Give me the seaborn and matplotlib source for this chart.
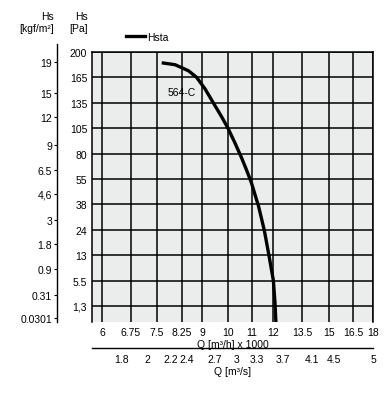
import numpy as np
import pandas as pd
import seaborn as sns
import matplotlib
matplotlib.use('Agg')
import matplotlib.pyplot as plt

plt.rcParams['font.family'] = ['Liberation Sans Narrow', 'Liberation Sans', 'DejaVu Sans']
plt.rcParams['font.size'] = 7.5

# flow in m3/h x 1000
q_ticks = [6, 6.75, 7.5, 8.25, 9, 10, 11, 12, 13.5, 15, 16.5, 18]
q_labels = ['6', '6.75', '7.5', '8.25', '9', '10', '11', '12', '13.5', '15', '16.5', '18']
# flow in m3/s (second scale under the chart)
qs_ticks = [1.8, 2, 2.2, 2.4, 2.7, 3, 3.3, 3.7, 4.1, 4.5, 5]
qs_labels = ['1.8', '2', '2.2', '2.4', '2.7', '3', '3.3', '3.7', '4.1', '4.5', '5']
# static pressure in Pa
pa_ticks = [1.3, 5.5, 13, 24, 38, 55, 80, 105, 135, 165, 200]
pa_labels = ['1,3', '5.5', '13', '24', '38', '55', '80', '105', '135', '165', '200']
# same pressure in kgf/m2
kgf_ticks = [19, 15, 12, 9, 6.5, 4.6, 3, 1.8, 0.9, 0.31, 0.0301]
kgf_labels = ['19', '15', '12', '9', '6.5', '4,6', '3', '1.8', '0.9', '0.31', '0.0301']

# fan curve 564-C
q_curve = [7.69, 8.04, 8.49, 8.80, 9.12, 9.50, 9.76, 10.0, 10.29, 10.56, 10.78, 10.98,
           11.18, 11.31, 11.59, 11.81, 12.02, 12.10, 12.15]
pa_curve = [184.8, 182.5, 174.2, 165.0, 151.3, 131.6, 118.2, 105.0, 90.4, 76.2, 63.4, 52.3,
            42.8, 37.1, 23.6, 12.85, 5.5, 1.91, 0.0]

G = 9.80665

# the sheet uses hand-made, uneven scales: tick value -> position (px)
q_pos = [102, 131, 157, 182, 202, 228, 252, 273, 302, 329, 353, 373]
qs_pos = [122, 147, 171, 187, 215, 237, 257, 283, 312, 334, 373]
pa_pos = [-0.63] + list(range(len(pa_ticks)))  # equal rows, 0 Pa at the bottom edge


def make_scale(vals, pos):
    vals = np.asarray(vals, float)
    pos = np.asarray(pos, float)

    def interp(v, a, b):
        v = np.asarray(v, float)
        out = np.interp(v, a, b)
        out = np.where(v < a[0], b[0] + (v - a[0]) * (b[1] - b[0]) / (a[1] - a[0]), out)
        out = np.where(v > a[-1], b[-1] + (v - a[-1]) * (b[-1] - b[-2]) / (a[-1] - a[-2]), out)
        return out

    return (lambda v: interp(v, vals, pos)), (lambda p: interp(p, pos, vals))


q_fwd, q_inv = make_scale(q_ticks, q_pos)
qs_fwd, qs_inv = make_scale(qs_ticks, qs_pos)
pa_fwd, pa_inv = make_scale([0] + pa_ticks, pa_pos)

W, H = 389, 402
fig = plt.figure(figsize=(W / 100, H / 100), dpi=100)
L, R, T, B = 92, 373, 53, 323
ax = fig.add_axes([L / W, 1 - B / H, (R - L) / W, (B - T) / H])
ax.set_facecolor('#ebecec')

df = pd.DataFrame({'Q': q_curve, 'Hs': pa_curve})
sns.lineplot(data=df, x='Q', y='Hs', sort=False, errorbar=None, color='black',
             lw=2.4, label='Hsta', ax=ax, zorder=5)

ax.set_xscale('function', functions=(q_fwd, q_inv))
ax.set_yscale('function', functions=(pa_fwd, pa_inv))
ax.set_xlim(float(q_inv(L)), 18)
ax.set_ylim(0, 200)
ax.set_xticks(q_ticks, q_labels)
ax.set_yticks(pa_ticks, pa_labels)
ax.minorticks_off()
ax.tick_params(length=0, pad=3.5, labelsize=7.5)
ax.grid(True, color='black', lw=1.1)
ax.set_axisbelow(True)
for s in ['top', 'right', 'left']:
    ax.spines[s].set_linewidth(1.1)
ax.spines['bottom'].set_visible(False)
ax.set_xlabel('Q [m³/h] x 1000', fontsize=7.5, labelpad=1.5)
ax.set_ylabel('')

ax.text(7.83, 148, '564-C', ha='left', va='center', fontsize=7.5)

ax.legend(loc='center left', bbox_to_anchor=((126 - L) / (R - L), 1 + 15 / (B - T)),
          frameon=False, borderpad=0, borderaxespad=0, handlelength=1.8,
          handletextpad=0.2, fontsize=7.5)

# kgf/m2 axis on the far left
ax2 = ax.twinx()
ax2.set_yscale('function', functions=(lambda v: pa_fwd(np.asarray(v) * G),
                                      lambda p: pa_inv(p) / G))
ax2.set_ylim(0, 200 / G)
ax2.yaxis.set_ticks_position('left')
ax2.yaxis.set_label_position('left')
ax2.set_yticks(kgf_ticks, kgf_labels)
ax2.minorticks_off()
ax2.spines['left'].set_position(('outward', (L - 57) * 0.72))
ax2.spines['left'].set_bounds(0, 21.5)
ax2.spines['left'].set_linewidth(1.0)
for s in ['top', 'right', 'bottom']:
    ax2.spines[s].set_visible(False)
ax2.tick_params(axis='y', length=2.5, width=0.8, pad=1, labelsize=7.5)
ax2.tick_params(axis='x', bottom=False, labelbottom=False)

# m3/s scale under the chart
y3 = 349
ax3 = fig.add_axes([L / W, 1 - y3 / H, (R - L) / W, 0.0001])
ax3.patch.set_visible(False)
ax3.set_xscale('function', functions=(qs_fwd, qs_inv))
ax3.set_xlim(float(qs_inv(L)), 5)
ax3.set_xticks(qs_ticks, qs_labels)
ax3.minorticks_off()
ax3.set_yticks([])
for s in ['top', 'right', 'left']:
    ax3.spines[s].set_visible(False)
ax3.spines['bottom'].set_linewidth(1.0)
ax3.tick_params(axis='x', length=0, pad=4, labelsize=7.5)
ax3.set_xlabel('Q [m³/s]', fontsize=7.5, labelpad=1.5)

fig.text(54 / W, 1 - 23 / H, 'Hs\n[kgf/m²]', ha='right', va='center',
         multialignment='right', fontsize=7.5, linespacing=1.2)
fig.text(88 / W, 1 - 23 / H, 'Hs\n[Pa]', ha='right', va='center',
         multialignment='right', fontsize=7.5, linespacing=1.2)

fig.savefig('out.png', dpi=100)
